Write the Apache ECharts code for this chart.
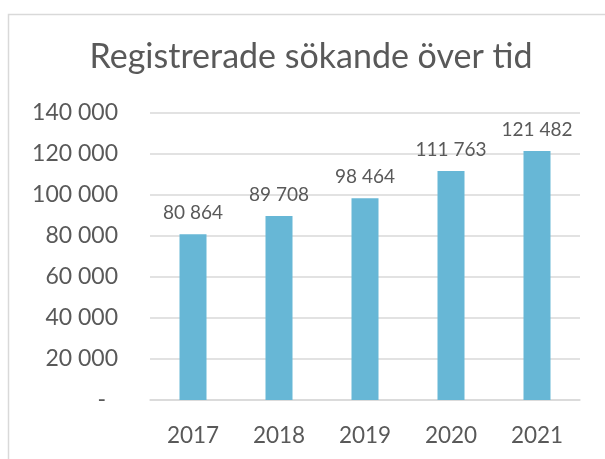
<!DOCTYPE html>
<html>
<head>
<meta charset="utf-8">
<script src="https://cdn.jsdelivr.net/npm/echarts@6/dist/echarts.min.js"></script>
<style>
html,body{margin:0;padding:0;background:#fff;}
#chart{width:605px;height:459px;}
</style>
</head>
<body>
<div id="chart"></div>
<script>
const titleText = "Registrerade sökande över tid";
const years = ["2017", "2018", "2019", "2020", "2021"];
const applicants = [80864, 89708, 98464, 111763, 121482];
const yMin = 0, yMax = 140000, yStep = 20000;

function fmt(v) {
  return String(Math.round(v)).replace(/\B(?=(\d{3})+(?!\d))/g, " ");
}

const FONT = "Lato";
const TXT = "#595959";

const chart = echarts.init(document.getElementById("chart"), null, {renderer: "canvas"});
chart.setOption({
  animation: false,
  backgroundColor: "#ffffff",
  graphic: [{
    type: "rect",
    shape: {x: 8.5, y: 14.5, width: 700, height: 600},
    style: {fill: "none", stroke: "#D9D9D9", lineWidth: 1.5},
    silent: true,
    z: -1
  }],
  title: {
    text: titleText,
    left: 306,
    top: 35,
    textAlign: "center",
    textStyle: {fontFamily: FONT, fontSize: 34, fontWeight: "normal", color: TXT}
  },
  grid: {left: 150, right: 25, top: 113, bottom: 59, containLabel: false},
  xAxis: {
    type: "category",
    data: years,
    axisLine: {show: true, lineStyle: {color: "#D9D9D9", width: 1.5}},
    axisTick: {show: false},
    axisLabel: {fontFamily: FONT, fontSize: 22.5, color: TXT, margin: 24}
  },
  yAxis: {
    type: "value",
    min: yMin,
    max: yMax,
    interval: yStep,
    axisLine: {show: false},
    axisTick: {show: false},
    splitLine: {lineStyle: {color: "#D9D9D9", width: 1.5}},
    axisLabel: {
      fontFamily: FONT, fontSize: 23, color: TXT, margin: 32,
      formatter: function (v) { return v === 0 ? "{d|-}" : fmt(v); },
      rich: {d: {fontFamily: FONT, fontSize: 23, color: TXT, padding: [0, 12, 0, 0]}}
    }
  },
  series: [{
    type: "bar",
    data: applicants,
    barWidth: 27,
    itemStyle: {color: "#67B7D6"},
    label: {
      show: true,
      position: "top",
      distance: 12,
      fontFamily: FONT,
      fontSize: 19,
      color: TXT,
      formatter: function (p) { return fmt(p.value); }
    }
  }]
});
</script>
</body>
</html>
